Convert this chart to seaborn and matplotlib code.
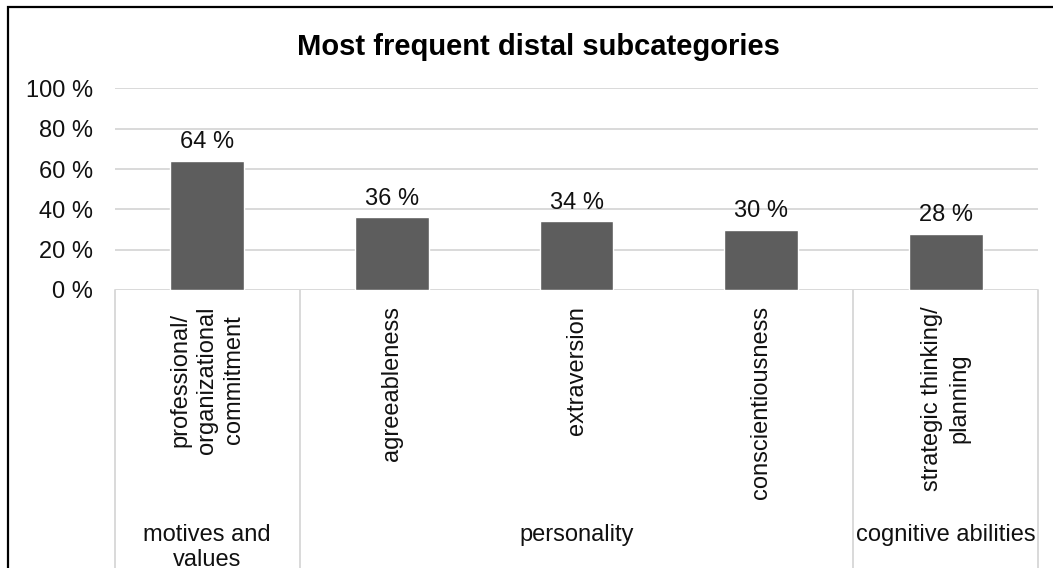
import matplotlib
matplotlib.use("Agg")
import matplotlib.pyplot as plt
import matplotlib.transforms as mtransforms
from matplotlib.patches import Rectangle
from matplotlib.lines import Line2D
import seaborn as sns
import pandas as pd

# Data
subcategories = [
    "professional/\norganizational\ncommitment",
    "agreeableness",
    "extraversion",
    "conscientiousness",
    "strategic thinking/\nplanning",
]
shares = [64, 36, 34, 30, 28]
groups = ["motives and\nvalues", "personality", "cognitive abilities"]
group_sizes = [1, 3, 1]
y_ticks = [0, 20, 40, 60, 80, 100]
y_tick_labels = [f"{t} %" for t in y_ticks]
title = "Most frequent distal subcategories"

sns.set_theme(style="white")
plt.rcParams["font.family"] = ["Liberation Sans", "DejaVu Sans"]

W, H = 1053, 568
fig = plt.figure(figsize=(W / 100, H / 100), dpi=100)
fig.patch.set_facecolor("white")

FS = 17
TXT = "#111111"

# plot area in pixel coordinates
left, right, top, bottom = 115, 1038, 88.5, 290
ax = fig.add_axes([left / W, (H - bottom) / H, (right - left) / W, (bottom - top) / H])

df = pd.DataFrame({"sub": [f"c{i}" for i in range(len(shares))], "share": shares})
sns.barplot(data=df, x="sub", y="share", color="#5d5d5d", width=0.4,
            saturation=1, ax=ax, zorder=3)

ax.set_ylim(0, 100)
ax.set_xlim(-0.5, len(shares) - 0.5)
ax.set_yticks(y_ticks)
ax.set_yticklabels(y_tick_labels, fontsize=FS, color=TXT)
ax.tick_params(axis="y", length=0, pad=16)
ax.set_xticks([])
ax.set_xlabel("")
ax.set_ylabel("")
for s in ax.spines.values():
    s.set_visible(False)
for t in y_ticks:
    ax.axhline(t, color="#d9d9d9", lw=1.4, zorder=1)

# value labels above bars
for i, v in enumerate(shares):
    ax.text(i, v + 3.8, f"{v} %", ha="center", va="bottom", fontsize=FS, color=TXT)

# multi-level category axis below the plot
trans = mtransforms.blended_transform_factory(ax.transData, fig.transFigure)
for i, lab in enumerate(subcategories):
    ax.text(i, (H - 306) / H, lab, rotation=90, ha="center", va="top",
            multialignment="center", fontsize=FS, color=TXT,
            transform=trans, linespacing=1.27)

boundaries = [-0.5]
for n in group_sizes:
    boundaries.append(boundaries[-1] + n)
for b in boundaries:
    fig.add_artist(Line2D([b, b], [(H - bottom) / H, -0.02], transform=trans,
                          color="#d9d9d9", lw=1.4, clip_on=False))
for g, a, b in zip(groups, boundaries[:-1], boundaries[1:]):
    ax.text((a + b) / 2, (H - 524) / H, g, ha="center", va="top",
            multialignment="center", fontsize=FS, color=TXT,
            transform=trans, linespacing=1.2)

fig.text(538 / W, (H - 55) / H, title, ha="center", va="baseline",
         fontsize=21, fontweight="bold", color="#000000")

# chart frame
fig.add_artist(Rectangle((8 / W, -0.1), 1.2, (H - 7) / H + 0.1,
                         transform=fig.transFigure, fill=False,
                         edgecolor="black", lw=1.6, clip_on=False))

fig.savefig("out.png", dpi=100)
